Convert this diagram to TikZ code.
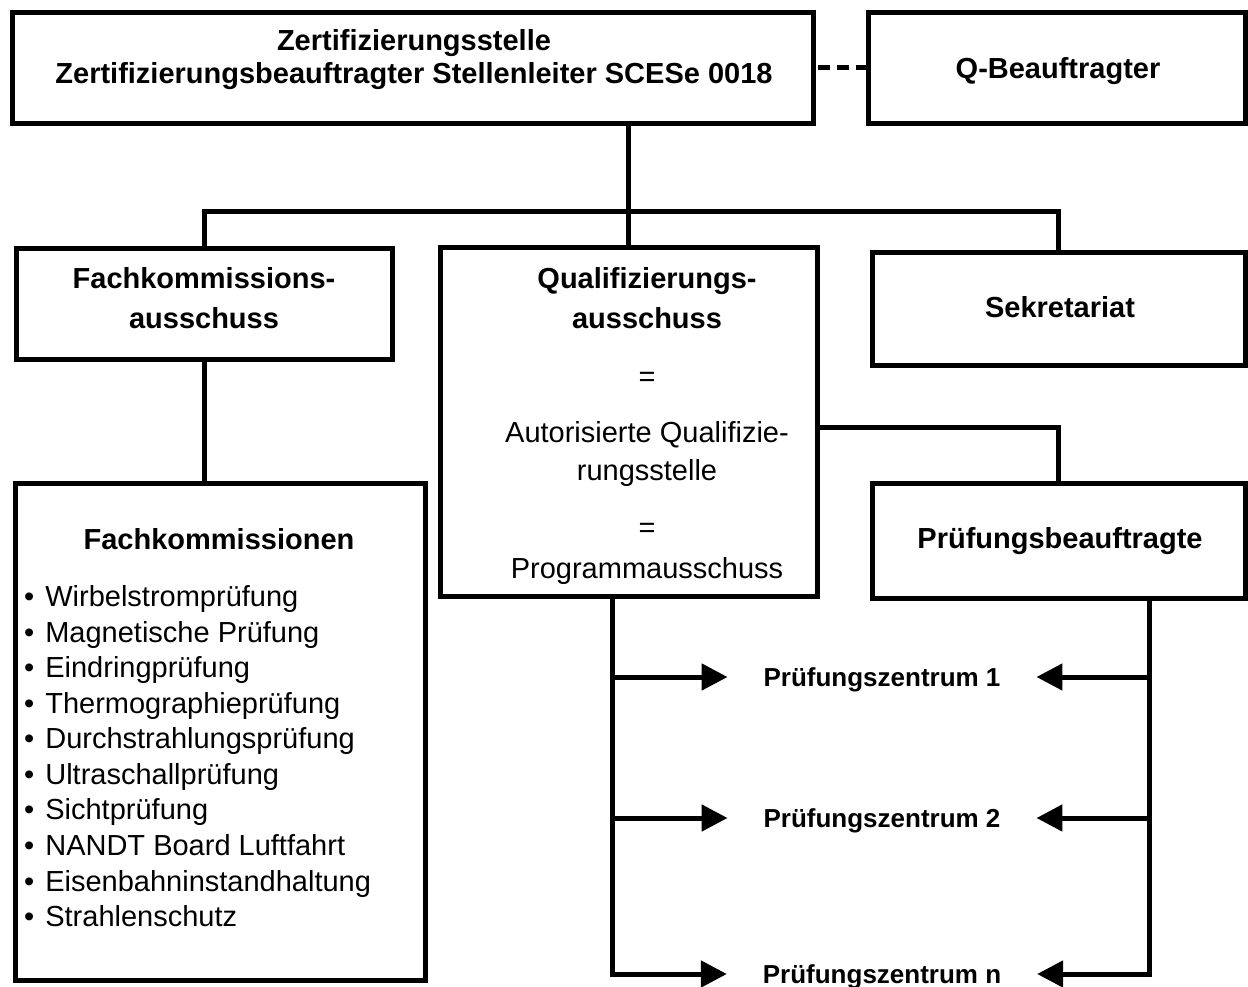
\documentclass[tikz,border=0pt]{standalone}
\usepackage{fontspec}
\setmainfont{Liberation Sans}
\usetikzlibrary{arrows.meta}
\tikzset{
  box/.style={draw, line width=5pt, inner sep=0pt},
  head/.style={font=\fontsize{29}{35}\selectfont\bfseries, inner sep=0pt, text height=21pt, text depth=0pt},
  txt/.style={font=\fontsize{29}{35}\selectfont, inner sep=0pt, text height=21pt, text depth=0pt},
  item/.style={txt, anchor=west, execute at begin node={\textbullet\hspace{11pt}}},
  zentrum/.style={font=\fontsize{26}{31}\selectfont\bfseries, inner sep=0pt, text height=18.6pt, text depth=0pt, outer sep=36pt},
  conn/.style={line width=5pt},
  tip/.style={line width=5pt, -{Triangle[length=26pt,width=26pt]}}
}
\begin{document}
\begin{tikzpicture}[x=1pt,y=-1pt]
\useasboundingbox (0,0) rectangle (1248,987);

\node[box, minimum width=801.5pt, minimum height=111.5pt] (top) at (413,68) {};
\node[box, minimum width=377pt, minimum height=111.5pt] (qb) at (1056.5,68) {};
\node[box, minimum width=376pt, minimum height=110pt] (fka) at (204,304) {};
\node[box, minimum width=377pt, minimum height=348pt] (qa) at (628.5,422) {};
\node[box, minimum width=373pt, minimum height=112pt] (sek) at (1058.5,309) {};
\node[box, minimum width=373pt, minimum height=115pt] (pba) at (1058.5,540.5) {};
\node[box, minimum width=410pt, minimum height=497pt] (fk) at (220,731.5) {};

\node[head] (top1) at (414,40) {Zertifizierungsstelle};
\node[head] (top2) at (414,73) {Zertifizierungsbeauftragter Stellenleiter SCESe 0018};
\node[head] (qbt) at (1058,68) {Q-Beauftragter};
\node[head] (fka1) at (204,278) {Fachkommissions-};
\node[head] (fka2) at (204,318) {ausschuss};
\node[head] (sekt) at (1060,307) {Sekretariat};
\node[head] (pbat) at (1060,538) {Prüfungsbeauftragte};

\node[head] (qa1) at (647,277.5) {Qualifizierungs-};
\node[head] (qa2) at (647,318) {ausschuss};
\node[txt] (qa3) at (647,376) {=};
\node[txt] (qa4) at (647,432) {Autorisierte Qualifizie-};
\node[txt] (qa5) at (647,470) {rungsstelle};
\node[txt] (qa6) at (647,527) {=};
\node[txt] (qa7) at (647,568) {Programmausschuss};

\node[head] (fkt) at (219,539) {Fachkommissionen};
\node[item] (fk1) at (24,596) {Wirbelstromprüfung};
\node[item] (fk2) at (24,632) {Magnetische Prüfung};
\node[item] (fk3) at (24,667) {Eindringprüfung};
\node[item] (fk4) at (24,703) {Thermographieprüfung};
\node[item] (fk5) at (24,738) {Durchstrahlungsprüfung};
\node[item] (fk6) at (24,774) {Ultraschallprüfung};
\node[item] (fk7) at (24,809) {Sichtprüfung};
\node[item] (fk8) at (24,845) {NANDT Board Luftfahrt};
\node[item] (fk9) at (24,881) {Eisenbahninstandhaltung};
\node[item] (fk10) at (24,916) {Strahlenschutz};

\node[zentrum] (pz1) at (882,677) {Prüfungszentrum 1};
\node[zentrum] (pz2) at (882,818) {Prüfungszentrum 2};
\node[zentrum] (pzn) at (882,974) {Prüfungszentrum n};

\coordinate (bar) at (0,212);
\coordinate (qlink) at (0,427);
\coordinate (ltrunk) at (612,0);
\coordinate (rtrunk) at (1149,0);

\draw[conn, dash pattern=on 12pt off 7pt, dash phase=17pt] (top.east) -- (qb.west);
\draw[conn] (top.south -| qa.north) -- (qa.north);
\draw[conn] (fka.north) |- (bar -| qa.north) -| (sek.north);
\draw[conn] (fka.south) -- (fka.south |- fk.north);
\draw[conn] (qa.east |- qlink) -| (pba.north);

\draw[tip] (ltrunk |- qa.south) |- (pzn.west);
\draw[tip] (ltrunk |- pz1) -- (pz1.west);
\draw[tip] (ltrunk |- pz2) -- (pz2.west);
\draw[tip] (rtrunk |- pba.south) |- (pzn.east);
\draw[tip] (rtrunk |- pz1) -- (pz1.east);
\draw[tip] (rtrunk |- pz2) -- (pz2.east);
\end{tikzpicture}
\end{document}
